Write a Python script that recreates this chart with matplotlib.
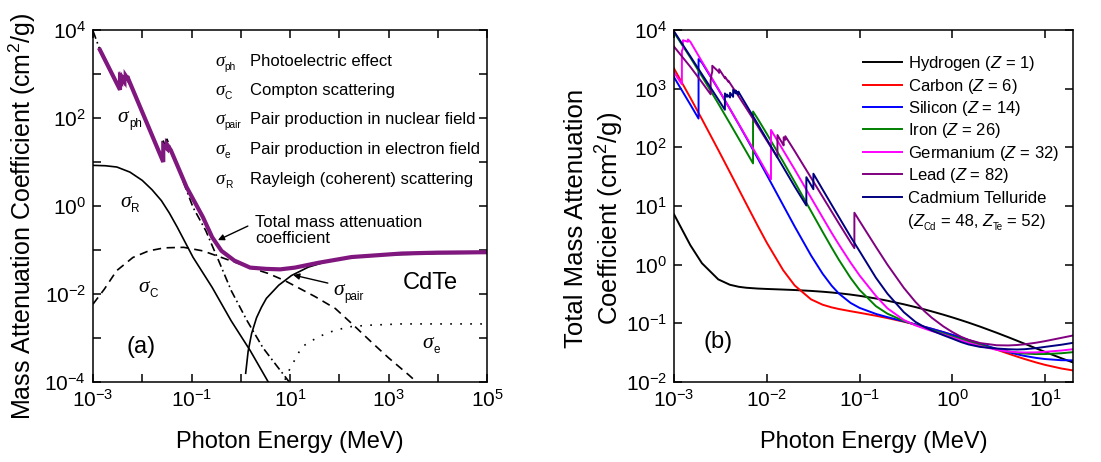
import matplotlib
matplotlib.use("Agg")
import matplotlib.pyplot as plt
from matplotlib.transforms import offset_copy

plt.rcParams['font.family'] = ['Liberation Sans', 'DejaVu Sans']
plt.rcParams['mathtext.fontset'] = 'custom'
plt.rcParams['mathtext.rm'] = 'Liberation Sans'
plt.rcParams['mathtext.it'] = 'Liberation Sans:italic'
plt.rcParams['mathtext.default'] = 'regular'
plt.rcParams['lines.scale_dashes'] = False

# ---------------- (a) CdTe interaction components ----------------
# photon energy in MeV, mass attenuation in cm^2/g
photo_E = [1.0e-3, 1.38e-3, 3.5375e-3, 3.5375e-3, 3.727e-3, 3.727e-3, 4.018e-3, 4.018e-3,
           4.341e-3, 4.341e-3, 4.612e-3, 4.612e-3, 4.939e-3, 4.939e-3, 2.6711e-2, 2.6711e-2,
           3.1814e-2, 3.1814e-2, 0.1076, 0.195, 0.355, 0.646, 1.35, 2.82, 5.13, 9.33, 12.6]
photo_mu = [9550, 3550, 437, 800, 730, 830, 680, 760, 640, 900, 780, 880, 760, 850, 10.0, 30.0,
            18.5, 33.0, 0.93, 0.275, 0.0575, 0.0117, 2.45e-3, 6.0e-4, 2.5e-4, 1.05e-4, 6.3e-5]

total_E = [1.38e-3, 3.5375e-3, 3.5375e-3, 3.727e-3, 3.727e-3, 4.018e-3, 4.018e-3, 4.341e-3,
           4.341e-3, 4.612e-3, 4.612e-3, 4.939e-3, 4.939e-3, 2.6711e-2, 2.6711e-2, 3.1814e-2,
           3.1814e-2, 3.8e-2, 0.0794, 0.17, 0.263, 0.407, 0.741, 1.55, 3.31, 6.31, 12.6, 38.0,
           178.0, 1860.0, 1.0e4, 1.0e5]
total_mu = [3548, 437, 794, 724, 832, 741, 794, 692, 933, 813, 912, 813, 891, 10.0, 24.0, 20.0,
            25.0, 18.6, 2.69, 0.562, 0.195, 0.0955, 0.0575, 0.0398, 0.0372, 0.0363, 0.0398,
            0.0513, 0.0692, 0.0832, 0.0871, 0.0891]

rayleigh_E = [1.0e-3, 1.78e-3, 3.05e-3, 5.62e-3, 1.0e-2, 1.58e-2, 2.44e-2, 3.55e-2, 5.13e-2,
              7.41e-2, 0.1076, 0.263, 0.64, 1.563, 3.53, 4.0]
rayleigh_mu = [8.39, 8.22, 7.69, 5.89, 3.82, 2.34, 1.33, 0.692, 0.331, 0.151, 0.0681, 0.0141,
               2.45e-3, 5.13e-4, 1.05e-4, 8.3e-5]

compton_E = [1.0e-3, 1.70e-3, 3.02e-3, 6.46e-3, 1.35e-2, 2.82e-2, 6.92e-2, 0.17, 0.407, 1.55,
             3.55, 7.94, 32.4, 83.2, 209.0, 457.0, 1000.0, 2570.0, 4170.0]
compton_mu = [5.89e-3, 1.29e-2, 3.39e-2, 6.76e-2, 9.55e-2, 0.112, 0.115, 0.0955, 0.0676, 0.0398,
              0.0295, 0.020, 8.71e-3, 4.68e-3, 1.82e-3, 7.94e-4, 3.55e-4, 1.45e-4, 8.9e-5]

pair_E = [1.259, 1.413, 1.66, 2.09, 2.63, 3.31, 5.89, 10.7, 23.4, 60.3, 178.0, 1000.0, 1.0e4, 1.0e5]
pair_mu = [1.58e-4, 5.0e-4, 1.26e-3, 2.88e-3, 5.0e-3, 7.94e-3, 0.0158, 0.0263, 0.0407, 0.0562,
           0.0676, 0.0776, 0.0832, 0.0851]

epair_E = [7.94, 8.91, 17.4, 38.0, 83.2, 178.0, 389.0, 1860.0, 1.0e5]
epair_mu = [1.12e-4, 1.58e-4, 6.3e-4, 1.07e-3, 1.51e-3, 1.82e-3, 1.95e-3, 2.09e-3, 2.09e-3]

legend_subscripts = ['ph', 'C', 'pair', 'e', 'R']
legend_texts = ['Photoelectric effect', 'Compton scattering', 'Pair production in nuclear field',
                'Pair production in electron field', 'Rayleigh (coherent) scattering']

# ---------------- (b) total attenuation of several materials ----------------
grid = [1e-3, 1.5e-3, 2e-3, 3e-3, 4e-3, 5e-3, 6e-3, 8e-3, 1e-2, 1.5e-2, 2e-2, 3e-2, 4e-2, 5e-2,
        6e-2, 8e-2, 0.1, 0.15, 0.2, 0.3, 0.4, 0.5, 0.6, 0.8, 1.0, 1.25, 1.5, 2.0, 3.0, 4.0, 5.0,
        6.0, 8.0, 10.0, 15.0, 20.0]

hydrogen_E = grid
hydrogen_mu = [7.217, 2.148, 1.059, 0.5612, 0.4546, 0.4193, 0.4042, 0.3914, 0.3854, 0.3764, 0.3695,
               0.3570, 0.3458, 0.3355, 0.3260, 0.3091, 0.2944, 0.2651, 0.2429, 0.2112, 0.1893,
               0.1729, 0.1599, 0.1405, 0.1263, 0.1129, 0.1027, 0.08769, 0.06921, 0.05806, 0.05049,
               0.04498, 0.03746, 0.03254, 0.02539, 0.02153]

carbon_E = grid
carbon_mu = [2211, 700.2, 302.6, 90.33, 37.78, 19.12, 10.95, 4.576, 2.373, 0.8071, 0.4420, 0.2562,
             0.2076, 0.1871, 0.1753, 0.1610, 0.1514, 0.1347, 0.1229, 0.1066, 0.09546, 0.08715,
             0.08058, 0.07076, 0.06361, 0.05690, 0.05179, 0.04442, 0.03562, 0.03047, 0.02708,
             0.02469, 0.02154, 0.01959, 0.01698, 0.01575]

silicon_E = [1e-3, 1.5e-3, 1.8389e-3, 1.8389e-3, 2e-3, 3e-3, 4e-3, 5e-3, 6e-3, 8e-3, 1e-2, 1.5e-2,
             2e-2, 3e-2, 4e-2, 5e-2, 6e-2, 8e-2, 0.1, 0.15, 0.2, 0.3, 0.4, 0.5, 0.6, 0.8, 1.0, 1.25,
             1.5, 2.0, 3.0, 4.0, 5.0, 6.0, 8.0, 10.0, 15.0, 20.0]
silicon_mu = [1570, 535.5, 309.2, 3192, 2777, 978.4, 452.9, 245.0, 147.0, 64.68, 33.89, 10.34, 4.464,
              1.436, 0.7012, 0.4385, 0.3207, 0.2228, 0.1835, 0.1448, 0.1275, 0.1082, 0.09614,
              0.08748, 0.08077, 0.07082, 0.06361, 0.05688, 0.05183, 0.04480, 0.03678, 0.03240,
              0.02967, 0.02788, 0.02574, 0.02462, 0.02352, 0.02338]

iron_E = [1e-3, 1.5e-3, 2e-3, 3e-3, 4e-3, 5e-3, 6e-3, 7.112e-3, 7.112e-3, 8e-3, 1e-2, 1.5e-2, 2e-2,
          3e-2, 4e-2, 5e-2, 6e-2, 8e-2, 0.1, 0.15, 0.2, 0.3, 0.4, 0.5, 0.6, 0.8, 1.0, 1.25, 1.5,
          2.0, 3.0, 4.0, 5.0, 6.0, 8.0, 10.0, 15.0, 20.0]
iron_mu = [9085, 3399, 1626, 557.6, 256.7, 139.8, 84.84, 53.19, 407.6, 305.6, 170.6, 57.08, 25.68,
           8.176, 3.629, 1.958, 1.205, 0.5952, 0.3717, 0.1964, 0.1460, 0.1099, 0.09400, 0.08414,
           0.07704, 0.06699, 0.05995, 0.05350, 0.04883, 0.04265, 0.03621, 0.03312, 0.03146,
           0.03057, 0.02991, 0.02994, 0.03092, 0.03224]

germanium_E = [1e-3, 1.2167e-3, 1.2167e-3, 1.2478e-3, 1.2478e-3, 1.4143e-3, 1.4143e-3, 1.5e-3,
               2e-3, 3e-3, 4e-3, 5e-3, 6e-3, 8e-3, 1e-2, 1.1103e-2, 1.1103e-2, 1.5e-2, 2e-2,
               3e-2, 4e-2, 5e-2, 6e-2, 8e-2, 0.1, 0.15, 0.2, 0.3, 0.4, 0.5, 0.6, 0.8, 1.0, 1.25,
               1.5, 2.0, 3.0, 4.0, 5.0, 6.0, 8.0, 10.0, 15.0, 20.0]
germanium_mu = [1893, 1190, 4400, 4800, 6700, 6300, 6900, 6300, 2900, 990, 455, 248, 151, 69.5,
                37.4, 28.5, 198.0, 89.4, 41.9, 13.85, 6.36, 3.49, 2.19, 1.086, 0.6555, 0.2933,
                0.180, 0.114, 0.0925, 0.0815, 0.0740, 0.0645, 0.0573, 0.0510, 0.0465, 0.0409,
                0.0354, 0.0331, 0.0322, 0.0318, 0.0320, 0.0327, 0.0344, 0.0362]

lead_E = [1e-3, 1.5e-3, 2e-3, 2.484e-3, 2.484e-3, 2.5343e-3, 2.5856e-3, 2.5856e-3, 3e-3, 3.0664e-3,
          3.0664e-3, 3.3013e-3, 3.5542e-3, 3.5542e-3, 3.6995e-3, 3.8507e-3, 3.8507e-3, 4e-3, 5e-3,
          6e-3, 8e-3, 1e-2, 1.30352e-2, 1.30352e-2, 1.5e-2, 1.52e-2, 1.52e-2, 1.55269e-2,
          1.58608e-2, 1.58608e-2, 2e-2, 3e-2, 4e-2, 5e-2, 6e-2, 8e-2, 8.80045e-2, 8.80045e-2,
          0.1, 0.15, 0.2, 0.3, 0.4, 0.5, 0.6, 0.8, 1.0, 1.25, 1.5, 2.0, 3.0, 4.0, 5.0, 6.0,
          8.0, 10.0, 15.0, 20.0]
lead_mu = [5210, 2356, 1285, 800.6, 1397, 1726, 1944, 2458, 1965, 1857, 2146, 1796, 1496, 1585,
           1442, 1311, 1368, 1251, 730.4, 467.2, 228.7, 130.6, 67.01, 162.1, 111.6, 107.8, 148.5,
           141.6, 134.4, 154.8, 86.36, 30.32, 14.36, 8.041, 5.021, 2.419, 1.910, 7.683, 5.549,
           2.014, 0.9985, 0.4031, 0.2323, 0.1614, 0.1248, 0.08870, 0.07102, 0.05876, 0.05222,
           0.04606, 0.04234, 0.04197, 0.04272, 0.04391, 0.04675, 0.04972, 0.05658, 0.06206]

cdte_E = [1e-3, 1.5e-3, 2e-3, 3e-3, 3.5375e-3, 3.5375e-3, 3.727e-3, 3.727e-3, 4.018e-3, 4.018e-3,
          4.341e-3, 4.341e-3, 4.612e-3, 4.612e-3, 4.939e-3, 4.939e-3, 6e-3, 8e-3, 1e-2, 1.5e-2,
          2e-2, 2.6711e-2, 2.6711e-2, 3e-2, 3.1814e-2, 3.1814e-2, 4e-2, 5e-2, 6e-2, 8e-2, 0.1,
          0.15, 0.2, 0.3, 0.4, 0.5, 0.6, 0.8, 1.0, 1.25, 1.5, 2.0, 3.0, 4.0, 5.0, 6.0, 8.0, 10.0,
          15.0, 20.0]
cdte_mu = [9500, 3550, 1760, 655, 437, 830, 725, 795, 708, 850, 725, 955, 832, 933, 794, 891, 532,
           248, 137, 46.3, 21.4, 10.2, 31.0, 22.7, 19.3, 35.5, 19.1, 10.5, 6.45, 3.0, 1.70, 0.60,
           0.32, 0.155, 0.106, 0.0865, 0.0756, 0.0628, 0.0549, 0.0478, 0.0436, 0.0396, 0.0372,
           0.0362, 0.0358, 0.0362, 0.0378, 0.0397, 0.0432, 0.0465]

materials = ['Hydrogen ($\\mathit{Z}$ = 1)', 'Carbon ($\\mathit{Z}$ = 6)', 'Silicon ($\\mathit{Z}$ = 14)',
             'Iron ($\\mathit{Z}$ = 26)', 'Germanium ($\\mathit{Z}$ = 32)', 'Lead ($\\mathit{Z}$ = 82)',
             'Cadmium Telluride']
material_colors = ['#000000', '#FF0000', '#0000FF', '#008000', '#FF00FF', '#800080', '#000080']
material_series = [(hydrogen_E, hydrogen_mu), (carbon_E, carbon_mu), (silicon_E, silicon_mu),
                   (iron_E, iron_mu), (germanium_E, germanium_mu), (lead_E, lead_mu),
                   (cdte_E, cdte_mu)]

# ---------------- figure ----------------
W, H = 1101, 462
fig = plt.figure(figsize=(W / 100, H / 100), dpi=100)
renderer = fig.canvas.get_renderer()

SERIF_IT = dict(family='Liberation Serif', style='italic')
SANS = dict(family='Liberation Sans', style='normal')
SANS_IT = dict(family='Liberation Sans', style='italic')


def px_axes(x0, x1, y0, y1):
    return fig.add_axes([x0 / W, 1 - y1 / H, (x1 - x0) / W, (y1 - y0) / H])


def dec_label(k):
    return r'$10^{%d}$' % k


def style_axes(ax):
    ax.tick_params(which='both', direction='in', top=True, right=True, length=6, width=1.1,
                   labelsize=15, pad=5)
    ax.xaxis.set_minor_locator(matplotlib.ticker.NullLocator())
    ax.yaxis.set_minor_locator(matplotlib.ticker.NullLocator())
    for s in ax.spines.values():
        s.set_linewidth(1.1)


def run_text(ax, x, y, pieces, transform):
    """Write consecutive text pieces on one baseline; each piece is
    (text, fontsize, font dict, vertical shift in points, extra gap in points)."""
    xoff = 0.0
    for s, size, font, dy, gap in pieces:
        tp = offset_copy(transform, fig=fig, x=xoff, y=dy * fig.dpi / 72.0, units='dots')
        t = ax.text(x, y, s, transform=tp, fontsize=size, ha='left', va='baseline', **font)
        xoff += t.get_window_extent(renderer).width + gap * fig.dpi / 72.0


def sigma(ax, x, y, sub, size, transform):
    run_text(ax, x, y, [('σ', size, SERIF_IT, 0, 0.3),
                        (sub, size * 0.54, SANS, -0.22 * size, 0)], transform)


# ----- panel (a)
ax1 = px_axes(93, 487, 30, 382)
ax1.set_xscale('log')
ax1.set_yscale('log')
ax1.set_xlim(1e-3, 1e5)
ax1.set_ylim(1e-4, 1e4)
xdec = list(range(-3, 6))
ydec = list(range(-4, 5))
ax1.set_xticks([10.0 ** k for k in xdec])
ax1.set_xticklabels([dec_label(k) if (k + 3) % 2 == 0 else '' for k in xdec])
ax1.set_yticks([10.0 ** k for k in ydec])
ax1.set_yticklabels([dec_label(k) if k % 2 == 0 else '' for k in ydec])
style_axes(ax1)

lw_thin = 1.2
ax1.plot(photo_E, photo_mu, color='black', lw=lw_thin, dashes=(6, 2.5, 1.2, 2.5))
ax1.plot(compton_E, compton_mu, color='black', lw=lw_thin, dashes=(6, 4))
ax1.plot(rayleigh_E, rayleigh_mu, color='black', lw=lw_thin)
ax1.plot(pair_E, pair_mu, color='black', lw=lw_thin)
ax1.plot(epair_E, epair_mu, color='black', lw=lw_thin, dashes=(1.2, 6))
ax1.plot(total_E, total_mu, color='#80177F', lw=3.0, solid_joinstyle='miter')

tr = ax1.transAxes
rows_base = [0.898, 0.815, 0.733, 0.648, 0.563]
for yy, sub, txt in zip(rows_base, legend_subscripts, legend_texts):
    sigma(ax1, 0.310, yy, sub, 13.5, tr)
    ax1.text(0.398, yy, txt, transform=tr, fontsize=12, ha='left', va='baseline')

sigma(ax1, 0.063, 0.739, 'ph', 15.5, tr)
sigma(ax1, 0.069, 0.497, 'R', 15.5, tr)
sigma(ax1, 0.114, 0.256, 'C', 15.5, tr)
sigma(ax1, 0.609, 0.247, 'pair', 15.5, tr)
sigma(ax1, 0.835, 0.097, 'e', 15.5, tr)

ax1.text(0.411, 0.474, 'Total mass attenuation\ncoefficient', transform=tr, fontsize=12,
         va='top', ha='left', linespacing=1.05)
ax1.text(0.787, 0.281, 'CdTe', transform=tr, fontsize=17, va='center')
ax1.text(0.086, 0.099, '(a)', transform=tr, fontsize=17, va='center')

arrow = dict(arrowstyle='-|>', color='black', lw=1.0, mutation_scale=9, shrinkA=0, shrinkB=0)
ax1.annotate('', xy=(0.317, 0.403), xytext=(0.393, 0.443), xycoords=tr, textcoords=tr,
             arrowprops=arrow)
ax1.annotate('', xy=(0.508, 0.304), xytext=(0.596, 0.281), xycoords=tr, textcoords=tr,
             arrowprops=arrow)

# ----- panel (b)
ax2 = px_axes(674, 1073, 30, 382)
ax2.set_xscale('log')
ax2.set_yscale('log')
ax2.set_xlim(1e-3, 20)
ax2.set_ylim(1e-2, 1e4)
xdec2 = list(range(-3, 2))
ydec2 = list(range(-2, 5))
ax2.set_xticks([10.0 ** k for k in xdec2])
ax2.set_xticklabels([dec_label(k) for k in xdec2])
ax2.set_yticks([10.0 ** k for k in ydec2])
ax2.set_yticklabels([dec_label(k) for k in ydec2])
style_axes(ax2)

for (E, mu), c in zip(material_series, material_colors):
    ax2.plot(E, mu, color=c, lw=1.4)

tr2 = ax2.transAxes
leg_y = [0.909, 0.844, 0.781, 0.719, 0.653, 0.591, 0.526]
for yy, lab, c in zip(leg_y, materials, material_colors):
    ax2.plot([0.474, 0.571], [yy, yy], transform=tr2, color=c, lw=1.4)
    ax2.text(0.586, yy - 0.017, lab, transform=tr2, fontsize=12, va='baseline', ha='left')
run_text(ax2, 0.586, 0.443,
         [('(', 12, SANS, 0, 0), ('Z', 12, SANS_IT, 0, 0.2), ('Cd', 7, SANS, -2.6, 3.2),
          ('= 48,', 12, SANS, 0, 3.2), ('Z', 12, SANS_IT, 0, 0.2), ('Te', 7, SANS, -2.6, 3.2),
          ('= 52)', 12, SANS, 0, 0)], tr2)
ax2.text(0.073, 0.114, '(b)', transform=tr2, fontsize=17, va='center')

# axis titles
fig.text(22 / W, 1 - 216 / H, 'Mass Attenuation Coefficient (cm$^2$/g)', rotation=90,
         fontsize=18, ha='center', va='center')
fig.text(595 / W, 1 - 218 / H, 'Total Mass Attenuation\nCoefficient (cm$^2$/g)', rotation=90,
         fontsize=18.5, ha='center', va='center', linespacing=1.2)
fig.text(290 / W, 1 - 442 / H, 'Photon Energy (MeV)', fontsize=17, ha='center', va='center')
fig.text(874 / W, 1 - 442 / H, 'Photon Energy (MeV)', fontsize=17, ha='center', va='center')

fig.savefig('out.png', dpi=100)
